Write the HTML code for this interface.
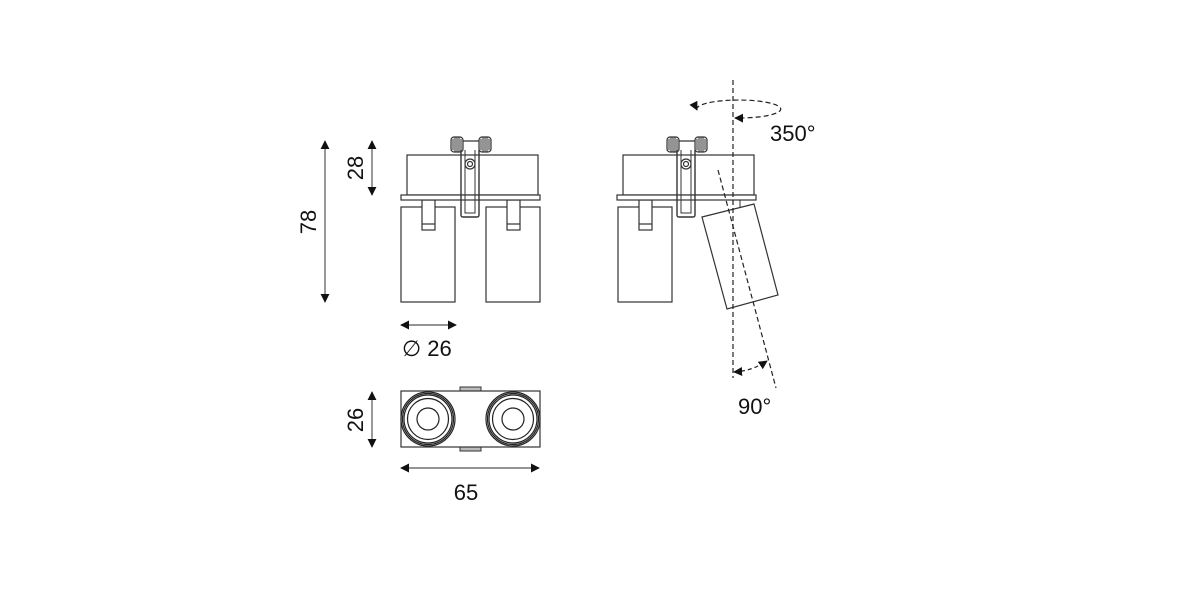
<!DOCTYPE html>
<html><head><meta charset="utf-8"><style>
html,body{margin:0;padding:0;background:#fff;}
svg{display:block;}
text{font-family:"Liberation Sans",sans-serif;fill:#111;}
</style></head><body>
<svg width="1181" height="591" viewBox="0 0 1181 591" xmlns="http://www.w3.org/2000/svg">
<defs>
<g id="head" fill="#fff" stroke="#333" stroke-width="1.2">
  <rect x="407" y="155" width="131" height="40"/>
  <rect x="401" y="195" width="139" height="5"/>
  <line x1="456" y1="141" x2="486" y2="141"/>
  <rect x="451" y="137" width="12" height="15" rx="3" fill="#e4e4e4"/>
  <rect x="479" y="137" width="12" height="15" rx="3" fill="#e4e4e4"/>
  <path d="M453 139v11M455 137v15M457 137v15M459 137v15M461 139v11M481 139v11M483 137v15M485 137v15M487 137v15M489 139v11" stroke="#333" stroke-width="0.9"/>
  <path d="M461 150 V215 Q461 217 463 217 H477 Q479 217 479 215 V150" fill="none" stroke-width="1.4"/>
  <path d="M465 150 V213 H475 V150" fill="none" stroke-width="1"/>
  <circle cx="470" cy="164" r="5" fill="#fff"/>
  <circle cx="470" cy="164" r="2.5" fill="#fff"/>
</g>
<g id="cyl" fill="#fff" stroke="#333" stroke-width="1.2">
  <rect x="401" y="207" width="54" height="95"/>
  <rect x="422" y="200" width="13" height="30"/>
  <line x1="422" y1="224" x2="435" y2="224"/>
</g>
<marker id="ar" viewBox="0 0 10 10" refX="9" refY="5" markerWidth="9" markerHeight="9" markerUnits="userSpaceOnUse" orient="auto-start-reverse">
  <path d="M0 0 L10 5 L0 10z" fill="#111"/>
</marker>
</defs>

<use href="#cyl"/>
<use href="#cyl" transform="translate(85 0)"/>
<use href="#head"/>

<use href="#cyl" transform="translate(217 0)"/>
<use href="#head" transform="translate(216 0)"/>
<polygon points="702,217 754,204 778,295 727,309" fill="#fff" stroke="#333" stroke-width="1.2"/>
<line x1="740" y1="200" x2="740" y2="208" stroke="#333"/>
<line x1="733" y1="80" x2="733" y2="378" stroke="#222" stroke-width="1.2" stroke-dasharray="5,3"/>
<line x1="718" y1="170" x2="776" y2="388" stroke="#222" stroke-width="1.2" stroke-dasharray="5,3"/>
<path d="M697 110 A42 9 0 1 1 735 118" fill="none" stroke="#222" stroke-width="1.2" stroke-dasharray="5,3" marker-start="url(#ar)" marker-end="url(#ar)"/>
<path d="M734 372 Q752 371 767 361" fill="none" stroke="#222" stroke-width="1.2" stroke-dasharray="4,3" marker-start="url(#ar)" marker-end="url(#ar)"/>
<text x="770" y="141" font-size="22">350°</text>
<text x="738" y="414" font-size="22">90°</text>

<rect x="460" y="387" width="21" height="4" fill="#bbb" stroke="#333"/>
<rect x="460" y="447" width="21" height="4" fill="#bbb" stroke="#333"/>
<rect x="401" y="391" width="139" height="56" fill="#fff" stroke="#333" stroke-width="1.2"/>
<g fill="none" stroke="#222" stroke-width="1.2">
  <circle cx="428" cy="419" r="27"/><circle cx="428" cy="419" r="25.5"/><circle cx="428" cy="419" r="24"/><circle cx="428" cy="419" r="20.5"/><circle cx="428" cy="419" r="11"/>
  <circle cx="513" cy="419" r="27"/><circle cx="513" cy="419" r="25.5"/><circle cx="513" cy="419" r="24"/><circle cx="513" cy="419" r="20.5"/><circle cx="513" cy="419" r="11"/>
</g>

<g stroke="#555" stroke-width="1.2" fill="none">
  <line x1="325" y1="141" x2="325" y2="302" marker-start="url(#ar)" marker-end="url(#ar)"/>
  <line x1="372" y1="141" x2="372" y2="195" marker-start="url(#ar)" marker-end="url(#ar)"/>
  <line x1="401" y1="325" x2="456" y2="325" marker-start="url(#ar)" marker-end="url(#ar)"/>
  <line x1="372" y1="392" x2="372" y2="447" marker-start="url(#ar)" marker-end="url(#ar)"/>
  <line x1="401" y1="468" x2="539" y2="468" marker-start="url(#ar)" marker-end="url(#ar)"/>
</g>
<text transform="translate(316 222) rotate(-90)" font-size="22" text-anchor="middle">78</text>
<text transform="translate(363 168) rotate(-90)" font-size="22" text-anchor="middle">28</text>
<text transform="translate(363 420) rotate(-90)" font-size="22" text-anchor="middle">26</text>
<text x="402" y="356" font-size="22">∅ 26</text>
<text x="466" y="500" font-size="22" text-anchor="middle">65</text>
</svg>
</body></html>
